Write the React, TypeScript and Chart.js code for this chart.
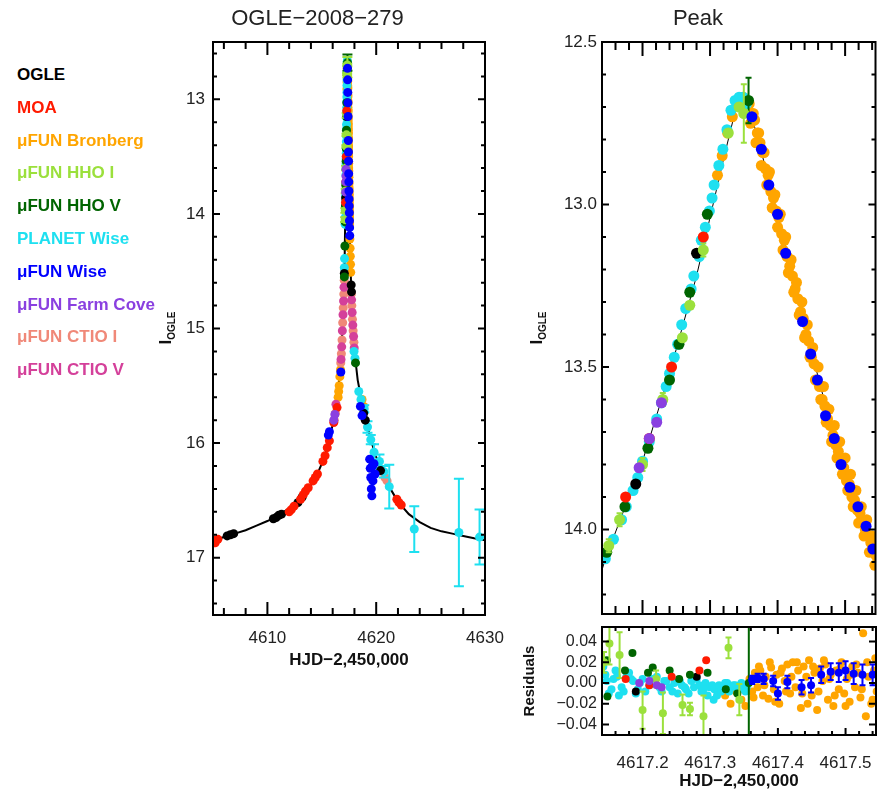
import React, { useEffect, useRef } from 'react';
import { Chart, registerables } from 'chart.js';
Chart.register(...registerables);

const FONT = '"Liberation Sans", Arial, Helvetica, sans-serif';

// ---------------- colours ----------------
const C_OGLE = '#000000';
const C_MOA = '#ff1a00';
const C_BRON = '#ffa500';
const C_HHOI = '#9be03c';
const C_HHOV = '#006400';
const C_PLAN = '#1ee0f0';
const C_WISE = '#0000ff';
const C_FARM = '#8a40e0';
const C_CTI = '#f08878';
const C_CTV = '#d4409a';

// ---------------- tick labels ----------------
const LEFT_X_TICKS = [4610, 4620, 4630];
const LEFT_Y_TICKS = [13, 14, 15, 16, 17];
const PEAK_Y_TICKS = [12.5, 13.0, 13.5, 14.0];
const RES_X_TICKS = [4617.2, 4617.3, 4617.4, 4617.5];
const RES_Y_TICKS = [-0.04, -0.02, 0, 0.02, 0.04];

// ---------------- model curve ----------------
const MODEL_T = [4604.8, 4606, 4607, 4608, 4609, 4610, 4611, 4612, 4613, 4614, 4614.5, 4615, 4615.5, 4616, 4616.3, 4616.6, 4616.8, 4617.0, 4617.1, 4617.145, 4617.2, 4617.24, 4617.28, 4617.3, 4617.32, 4617.34, 4617.352, 4617.37, 4617.4, 4617.44, 4617.48, 4617.52, 4617.546, 4617.6, 4617.7, 4617.8, 4618.0, 4618.3, 4618.6, 4619.0, 4619.5, 4620, 4620.5, 4621, 4621.5, 4622, 4623, 4624, 4625, 4626, 4627, 4628, 4629, 4630.2];
const MODEL_M = [16.86, 16.82, 16.79, 16.76, 16.72, 16.68, 16.63, 16.57, 16.49, 16.37, 16.29, 16.18, 16.04, 15.84, 15.68, 15.45, 15.22, 14.75, 14.4, 14.09, 13.79, 13.52, 13.22, 13.04, 12.86, 12.69, 12.66, 12.79, 13.03, 13.37, 13.69, 13.94, 14.08, 14.3, 14.65, 14.9, 15.2, 15.45, 15.6, 15.78, 15.97, 16.12, 16.25, 16.35, 16.43, 16.51, 16.62, 16.69, 16.74, 16.77, 16.79, 16.81, 16.83, 16.85];

// ---------------- OGLE ----------------
const OGLE_T = [4606.3, 4606.6, 4606.9, 4610.55, 4610.8, 4611.05, 4611.3, 4612.8, 4613.2, 4617.07, 4617.19, 4617.28, 4617.7, 4617.73, 4618.85, 4619.0, 4620.4];
const OGLE_M = [16.81, 16.8, 16.79, 16.66, 16.65, 16.63, 16.62, 16.52, 16.47, 14.52, 13.86, 13.15, 14.62, 14.68, 15.74, 15.8, 16.24];
const OGLE_RT = [4617.19, 4617.28];
const OGLE_R = [-0.008, 0.006];

// ---------------- MOA ----------------
const MOA_T = [4604.95, 4605.2, 4605.45, 4612.0, 4612.2, 4612.45, 4613.05, 4613.3, 4613.5, 4613.75, 4614.2, 4614.4, 4614.6, 4615.1, 4615.3, 4615.5, 4615.7, 4616.1, 4616.4, 4617.175, 4617.21, 4617.243, 4617.29, 4621.9, 4622.1, 4622.3];
const MOA_M = [16.84, 16.87, 16.84, 16.6, 16.58, 16.55, 16.49, 16.45, 16.42, 16.39, 16.33, 16.3, 16.27, 16.16, 16.11, 16.04, 15.98, 15.82, 15.69, 13.9, 13.72, 13.5, 13.1, 16.49, 16.52, 16.54];
const MOA_RT = [4617.175, 4617.21, 4617.243, 4617.284, 4617.294];
const MOA_R = [0.004, -0.002, 0.006, 0.012, 0.022];

// ---------------- muFUN Bronberg ----------------
const BRON_T = [4616.5, 4616.55, 4616.6, 4616.66, 4616.72, 4617.311, 4617.318, 4617.326, 4617.333, 4617.34, 4617.349, 4617.358, 4617.362, 4617.366, 4617.37, 4617.374, 4617.378, 4617.382, 4617.386, 4617.39, 4617.394, 4617.398, 4617.402, 4617.406, 4617.41, 4617.414, 4617.418, 4617.422, 4617.426, 4617.43, 4617.434, 4617.438, 4617.442, 4617.446, 4617.45, 4617.454, 4617.458, 4617.462, 4617.466, 4617.47, 4617.474, 4617.478, 4617.482, 4617.486, 4617.49, 4617.494, 4617.498, 4617.502, 4617.506, 4617.51, 4617.514, 4617.518, 4617.522, 4617.526, 4617.53, 4617.534, 4617.538, 4617.542, 4617.546, 4617.58, 4617.6, 4617.62, 4617.64, 4617.66, 4618.7, 4618.85];
const BRON_M = [15.6, 15.55, 15.5, 15.42, 15.36, 12.91, 12.85, 12.78, 12.73, 12.69, 12.67, 12.69, 12.72, 12.74, 12.78, 12.81, 12.84, 12.89, 12.91, 12.96, 12.98, 13.02, 13.04, 13.09, 13.11, 13.16, 13.19, 13.22, 13.26, 13.29, 13.33, 13.35, 13.4, 13.42, 13.47, 13.49, 13.54, 13.56, 13.6, 13.62, 13.66, 13.68, 13.71, 13.74, 13.76, 13.8, 13.81, 13.85, 13.86, 13.9, 13.91, 13.94, 13.95, 13.98, 14.0, 14.02, 14.04, 14.07, 14.08, 14.22, 14.3, 14.37, 14.44, 14.51, 15.62, 15.68];
const BRON2_T = [4617.36, 4617.364, 4617.368, 4617.372, 4617.376, 4617.38, 4617.384, 4617.388, 4617.392, 4617.396, 4617.4, 4617.404, 4617.408, 4617.412, 4617.416, 4617.42, 4617.424, 4617.428, 4617.432, 4617.436, 4617.44, 4617.444, 4617.448, 4617.452, 4617.456, 4617.46, 4617.464, 4617.468, 4617.472, 4617.476, 4617.48, 4617.484, 4617.488, 4617.492, 4617.496, 4617.5, 4617.504, 4617.508, 4617.512, 4617.516, 4617.52, 4617.524, 4617.528, 4617.532, 4617.536, 4617.54, 4617.544];
const BRON2_M = [12.75, 12.72, 12.81, 12.78, 12.88, 12.84, 12.94, 12.9, 13.01, 12.97, 13.07, 13.03, 13.14, 13.1, 13.21, 13.17, 13.27, 13.24, 13.34, 13.3, 13.41, 13.37, 13.47, 13.44, 13.54, 13.5, 13.6, 13.56, 13.67, 13.63, 13.73, 13.68, 13.78, 13.73, 13.83, 13.78, 13.88, 13.83, 13.93, 13.88, 13.98, 13.93, 14.02, 13.97, 14.07, 14.02, 14.11];
const BRON_RT = [4617.322, 4617.33, 4617.338, 4617.346, 4617.352, 4617.358, 4617.362, 4617.366, 4617.37, 4617.374, 4617.378, 4617.382, 4617.386, 4617.39, 4617.394, 4617.398, 4617.402, 4617.406, 4617.41, 4617.414, 4617.418, 4617.422, 4617.426, 4617.43, 4617.434, 4617.438, 4617.442, 4617.446, 4617.45, 4617.454, 4617.458, 4617.462, 4617.466, 4617.47, 4617.474, 4617.478, 4617.482, 4617.486, 4617.49, 4617.494, 4617.498, 4617.502, 4617.506, 4617.51, 4617.514, 4617.518, 4617.522, 4617.526, 4617.53, 4617.534, 4617.538, 4617.542, 4617.546, 4617.364, 4617.372, 4617.38, 4617.388, 4617.396, 4617.404, 4617.412, 4617.42, 4617.428, 4617.436, 4617.444, 4617.452, 4617.46, 4617.468, 4617.476, 4617.484, 4617.492, 4617.5, 4617.508, 4617.516, 4617.524, 4617.532, 4617.54, 4617.544];
const BRON_R = [-0.012, -0.02, -0.008, -0.016, -0.022, 0.004, -0.008, 0.01, -0.004, 0.012, -0.012, 0.006, -0.015, 0.015, -0.006, 0.008, -0.02, 0.014, 0.002, 0.018, -0.01, 0.02, -0.004, 0.012, -0.024, 0.016, 0.006, 0.022, -0.012, 0.01, -0.026, 0.014, 0.002, 0.018, -0.016, 0.008, -0.022, 0.012, -0.006, 0.02, -0.01, 0.004, -0.018, 0.016, -0.004, 0.01, -0.014, 0.048, -0.032, 0.006, -0.02, 0.012, -0.008, -0.014, 0.016, -0.002, 0.02, -0.018, 0.01, -0.008, 0.006, 0.02, -0.01, -0.02, 0.016, -0.008, 0.022, 0.004, -0.012, 0.014, -0.022, 0.008, 0.018, -0.006, 0.02, -0.016, 0.024];

// ---------------- muFUN HHO I ----------------
const HHOI_T = [4617.15, 4617.166, 4617.2, 4617.23, 4617.259, 4617.27, 4617.29, 4617.327, 4617.343, 4617.35];
const HHOI_M = [14.05, 13.97, 13.8, 13.6, 13.41, 13.31, 13.14, 12.78, 12.7, 12.72];
const HHOI_E = [0.02, 0.02, 0.02, 0.02, 0.01, 0.01, 0.02, 0.01, 0.01, 0.09];
const HHOI_RT = [4617.143, 4617.151, 4617.166, 4617.2, 4617.22, 4617.23, 4617.259, 4617.27, 4617.29, 4617.327, 4617.343];
const HHOI_R = [0.02, 0.038, 0.027, -0.026, 0.004, -0.029, -0.021, -0.025, -0.032, 0.034, -0.016];
const HHOI_RE = [0.01, 0.02, 0.022, 0.018, 0.008, 0.02, 0.01, 0.006, 0.02, 0.01, 0.015];

// ---------------- muFUN HHO V ----------------
const HHOV_T = [4617.075, 4617.12, 4617.147, 4617.174, 4617.208, 4617.24, 4617.254, 4617.27, 4617.296, 4617.357, 4618.1];
const HHOV_M = [14.55, 14.28, 14.07, 13.93, 13.75, 13.54, 13.43, 13.27, 13.03, 12.68, 15.3];
const HHOV_E = [0, 0, 0, 0, 0, 0, 0, 0, 0, 0.07, 0];
const HHOV_RT = [4617.147, 4617.148, 4617.174, 4617.185, 4617.208, 4617.215, 4617.24, 4617.254, 4617.27, 4617.296, 4617.323, 4617.34, 4617.357];
const HHOV_R = [0.022, -0.013, 0.012, 0.029, 0.01, 0.015, 0.012, 0.004, 0.008, 0.01, -0.006, -0.01, 0.0];
const HHOV_RE = [0, 0, 0, 0, 0, 0, 0, 0, 0, 0, 0, 0, 0.2];

// ---------------- PLANET Wise ----------------
const PLAN_T = [4617.07, 4617.09, 4617.145, 4617.157, 4617.169, 4617.176, 4617.186, 4617.193, 4617.2, 4617.21, 4617.221, 4617.228, 4617.235, 4617.24, 4617.247, 4617.252, 4617.258, 4617.264, 4617.272, 4617.276, 4617.284, 4617.287, 4617.293, 4617.299, 4617.303, 4617.306, 4617.313, 4617.319, 4617.325, 4617.331, 4617.337, 4617.343, 4617.349, 4617.354, 4617.96, 4618.05, 4618.4, 4618.6, 4618.9, 4619.2, 4619.5, 4619.8, 4620.3, 4620.7, 4621.2, 4623.5, 4627.6, 4629.5];
const PLAN_M = [14.47, 14.39, 14.09, 14.03, 13.97, 13.93, 13.88, 13.84, 13.79, 13.73, 13.66, 13.61, 13.56, 13.52, 13.47, 13.43, 13.37, 13.32, 13.26, 13.22, 13.16, 13.11, 13.07, 13.02, 12.98, 12.94, 12.88, 12.83, 12.77, 12.71, 12.68, 12.67, 12.67, 12.69, 15.2, 15.26, 15.55, 15.62, 15.7, 15.86, 15.97, 16.08, 16.16, 16.25, 16.38, 16.75, 16.78, 16.82];
const PLAN_E = [0, 0, 0, 0, 0, 0, 0, 0, 0, 0, 0, 0, 0, 0, 0, 0, 0, 0, 0, 0, 0, 0, 0, 0, 0, 0, 0, 0, 0, 0, 0, 0, 0, 0, 0, 0, 0, 0, 0.03, 0.05, 0.04, 0.07, 0.06, 0.05, 0.19, 0.2, 0.47, 0.24];
const PLAN_RT = [4617.142, 4617.145, 4617.15, 4617.157, 4617.16, 4617.165, 4617.169, 4617.176, 4617.18, 4617.186, 4617.19, 4617.193, 4617.2, 4617.21, 4617.221, 4617.228, 4617.235, 4617.24, 4617.247, 4617.252, 4617.258, 4617.264, 4617.272, 4617.276, 4617.284, 4617.287, 4617.293, 4617.299, 4617.303, 4617.305, 4617.306, 4617.31, 4617.313, 4617.319, 4617.325, 4617.331, 4617.337, 4617.343, 4617.349, 4617.354];
const PLAN_R = [0.016, 0.008, -0.01, 0.004, 0.012, -0.012, -0.004, 0.006, 0.01, 0.002, -0.01, -0.006, 0.004, -0.002, 0.006, -0.008, 0.002, -0.004, 0.0, -0.01, -0.002, -0.006, 0.002, -0.004, -0.002, -0.008, 0.0, -0.004, -0.002, -0.016, -0.006, -0.012, -0.002, -0.004, 0.0, -0.004, -0.002, -0.006, -0.002, -0.004];
const PLAN2_RT = [4617.147, 4617.154, 4617.162, 4617.172, 4617.183, 4617.196, 4617.204, 4617.214, 4617.225, 4617.232, 4617.244, 4617.255, 4617.262, 4617.268, 4617.28, 4617.29, 4617.296, 4617.316, 4617.322, 4617.328, 4617.334, 4617.34, 4617.346, 4617.352];
const PLAN2_R = [0.002, -0.006, 0.006, -0.008, 0.004, 0.0, -0.008, 0.004, -0.004, 0.002, -0.008, 0.002, -0.004, -0.01, 0.004, -0.006, -0.012, -0.008, 0.0, -0.008, -0.002, -0.006, 0.0, -0.008];

// ---------------- muFUN Wise ----------------
const WISE_T = [4615.6, 4615.7, 4616.75, 4617.362, 4617.376, 4617.387, 4617.4, 4617.412, 4617.437, 4617.449, 4617.459, 4617.471, 4617.484, 4617.494, 4617.507, 4617.519, 4617.531, 4617.541, 4617.555, 4617.57, 4618.55, 4618.7, 4619.4, 4619.45, 4619.5, 4619.55, 4619.6, 4619.65, 4619.7, 4619.8, 4619.9];
const WISE_M = [15.93, 15.9, 15.38, 12.73, 12.83, 12.94, 13.03, 13.15, 13.36, 13.46, 13.54, 13.65, 13.72, 13.8, 13.87, 13.93, 13.99, 14.06, 14.12, 14.19, 15.68, 15.76, 16.14, 16.22, 16.3, 16.4, 16.46, 16.2, 16.33, 16.18, 16.27];
const WISE_RT = [4617.362, 4617.37, 4617.379, 4617.393, 4617.4, 4617.414, 4617.435, 4617.449, 4617.464, 4617.478, 4617.49, 4617.5, 4617.512, 4617.525, 4617.54];
const WISE_R = [0.003, 0.005, 0.004, 0.002, -0.01, 0.001, -0.004, -0.002, 0.008, 0.011, 0.01, 0.012, 0.009, 0.008, 0.008];
const WISE_RE = [0.004, 0.004, 0.005, 0.005, 0.006, 0.006, 0.007, 0.007, 0.008, 0.008, 0.009, 0.009, 0.01, 0.01, 0.01];

// ---------------- muFUN Farm Cove ----------------
const FARM_T = [4616.1, 4616.2, 4617.195, 4617.21, 4617.221, 4617.228];
const FARM_M = [15.8, 15.75, 13.81, 13.72, 13.67, 13.61];
const FARM_RT = [4617.195, 4617.21, 4617.221, 4617.228];
const FARM_R = [0.0, 0.002, -0.002, -0.004];

// ---------------- muFUN CTIO I / V ----------------
const CTI_T = [4616.15, 4616.25, 4616.74, 4616.8, 4616.86, 4616.92, 4616.97, 4617.02, 4617.06, 4617.72, 4617.76, 4617.82, 4617.88, 4617.95, 4620.6, 4620.8, 4621.0];
const CTI_M = [15.8, 15.74, 15.3, 15.22, 15.1, 14.95, 14.82, 14.7, 14.58, 14.7, 14.8, 14.92, 15.02, 15.12, 16.25, 16.3, 16.33];
const CTV_T = [4616.3, 4616.77, 4616.83, 4616.89, 4616.95, 4617.0, 4617.04, 4617.74, 4617.79, 4617.85, 4617.92, 4617.98];
const CTV_M = [15.66, 15.27, 15.16, 15.02, 14.88, 14.76, 14.64, 14.75, 14.86, 14.97, 15.07, 15.17];

// ---------------- legend / axis text ----------------
const LEGEND_LABELS = ['OGLE', 'MOA', 'μFUN Bronberg', 'μFUN HHO I', 'μFUN HHO V', 'PLANET Wise', 'μFUN Wise', 'μFUN Farm Cove', 'μFUN CTIO I', 'μFUN CTIO V'];
const LEGEND_COLORS = [C_OGLE, C_MOA, C_BRON, C_HHOI, C_HHOV, C_PLAN, C_WISE, C_FARM, C_CTI, C_CTV];
const TITLE_LEFT = 'OGLE−2008−279';
const TITLE_RIGHT = 'Peak';
const X_LABEL = 'HJD−2,450,000';

type Obs = { label: string; color: string; t: number[]; m: number[]; e?: number[]; rt?: number[]; r?: number[]; re?: number[] };

// draw order: first = on top
const OBS: Obs[] = [
  { label: 'μFUN Wise', color: C_WISE, t: WISE_T, m: WISE_M, rt: WISE_RT, r: WISE_R, re: WISE_RE },
  { label: 'μFUN Farm Cove', color: C_FARM, t: FARM_T, m: FARM_M, rt: FARM_RT, r: FARM_R },
  { label: 'MOA', color: C_MOA, t: MOA_T, m: MOA_M, rt: MOA_RT, r: MOA_R },
  { label: 'μFUN HHO I', color: C_HHOI, t: HHOI_T, m: HHOI_M, e: HHOI_E, rt: HHOI_RT, r: HHOI_R, re: HHOI_RE },
  { label: 'μFUN HHO V', color: C_HHOV, t: HHOV_T, m: HHOV_M, e: HHOV_E, rt: HHOV_RT, r: HHOV_R, re: HHOV_RE },
  { label: 'OGLE', color: C_OGLE, t: OGLE_T, m: OGLE_M, rt: OGLE_RT, r: OGLE_R },
  { label: 'PLANET Wise', color: C_PLAN, t: PLAN_T, m: PLAN_M, e: PLAN_E, rt: [...PLAN_RT, ...PLAN2_RT], r: [...PLAN_R, ...PLAN2_R] },
  { label: 'μFUN CTIO V', color: C_CTV, t: CTV_T, m: CTV_M },
  { label: 'μFUN CTIO I', color: C_CTI, t: CTI_T, m: CTI_M },
  { label: 'μFUN Bronberg', color: C_BRON, t: [...BRON_T, ...BRON2_T], m: [...BRON_M, ...BRON2_M], rt: BRON_RT, r: BRON_R },
];

const pts = (t: number[], v: number[]) => t.map((x, i) => ({ x, y: v[i] }));

// ---------------- plugins ----------------
const errorBarPlugin = {
  id: 'errorBars',
  beforeDatasetDraw(chart: any, args: any) {
    const ds = chart.data.datasets[args.index];
    const errs: number[] | undefined = ds.errors;
    if (!errs) return;
    const ys = chart.scales.y;
    const a = chart.chartArea;
    const ctx = chart.ctx;
    ctx.save();
    ctx.beginPath();
    ctx.rect(a.left, a.top, a.right - a.left, a.bottom - a.top);
    ctx.clip();
    ctx.strokeStyle = ds.pointBackgroundColor;
    ctx.lineWidth = 2;
    const cap = ds.capWidth ?? 4;
    args.meta.data.forEach((el: any, i: number) => {
      const e = errs[i];
      if (!e) return;
      const v = ds.data[i].y;
      const y1 = ys.getPixelForValue(v - e);
      const y2 = ys.getPixelForValue(v + e);
      const x = el.x;
      ctx.beginPath();
      ctx.moveTo(x, y1); ctx.lineTo(x, y2);
      ctx.moveTo(x - cap, y1); ctx.lineTo(x + cap, y1);
      ctx.moveTo(x - cap, y2); ctx.lineTo(x + cap, y2);
      ctx.stroke();
    });
    ctx.restore();
  },
};

const frameTicksPlugin = {
  id: 'frameTicks',
  afterDraw(chart: any, _a: any, opts: any) {
    if (!opts || !opts.x) return;
    const { ctx, chartArea: a, scales } = chart;
    ctx.save();
    ctx.strokeStyle = '#000';
    ctx.lineWidth = 2;
    ctx.strokeRect(a.left, a.top, a.right - a.left, a.bottom - a.top);
    const each = (scale: any, cfg: number[], fn: (p: number, len: number) => void) => {
      const [major, minor, lMaj, lMin] = cfg;
      const lo = Math.min(scale.min, scale.max);
      const hi = Math.max(scale.min, scale.max);
      const n0 = Math.ceil(lo / minor - 1e-6);
      const n1 = Math.floor(hi / minor + 1e-6);
      for (let n = n0; n <= n1; n++) {
        const v = n * minor;
        const q = v / major;
        const isMajor = Math.abs(q - Math.round(q)) < 1e-6;
        fn(scale.getPixelForValue(v), isMajor ? lMaj : lMin);
      }
    };
    ctx.beginPath();
    each(scales.x, opts.x, (p, len) => {
      ctx.moveTo(p, a.bottom); ctx.lineTo(p, a.bottom - len);
      ctx.moveTo(p, a.top); ctx.lineTo(p, a.top + len);
    });
    each(scales.y, opts.y, (p, len) => {
      ctx.moveTo(a.left, p); ctx.lineTo(a.left + len, p);
      ctx.moveTo(a.right, p); ctx.lineTo(a.right - len, p);
    });
    ctx.stroke();
    ctx.restore();
  },
};

// ---------------- configs ----------------
const tickFont = { family: FONT, size: 17 };
const noGrid = { display: false, drawTicks: false };
const noBorder = { display: false };
const fixedTicks = (values: number[]) => (s: any) => {
  s.ticks = values.map((v) => ({ value: v }));
};

function obsDatasets(kind: 'main' | 'peak' | 'resid', radius: number) {
  const list = kind === 'resid' ? OBS.filter((o) => o.rt) : OBS;
  return list.map((o) => ({
    label: o.label,
    data: kind === 'resid' ? pts(o.rt as number[], o.r as number[]) : pts(o.t, o.m),
    errors: kind === 'resid' ? o.re : o.e,
    capWidth: kind === 'main' ? 5 : 3,
    pointBackgroundColor: o.color,
    backgroundColor: o.color,
    borderColor: o.color,
    pointBorderWidth: 0,
    pointRadius: radius,
    pointHoverRadius: radius,
    showLine: false,
    clip: 0,
  }));
}

function modelDataset(width: number) {
  return {
    label: 'model',
    data: pts(MODEL_T, MODEL_M),
    showLine: true,
    borderColor: '#000',
    borderWidth: width,
    pointRadius: 0,
    tension: 0,
    clip: 0,
  };
}

const titleOpts = (text: string) => ({
  display: true,
  text,
  color: '#222',
  font: { family: FONT, size: 22, weight: 'normal' as const },
  padding: { top: 6, bottom: 9.6 },
});

function mainConfig(): any {
  return {
    type: 'scatter',
    data: { datasets: [...obsDatasets('main', 4.5), modelDataset(2)] },
    plugins: [errorBarPlugin, frameTicksPlugin],
    options: {
      responsive: false,
      animation: false,
      events: [],
      layout: { padding: { left: 0, right: 30, top: 0, bottom: 0 } },
      plugins: {
        legend: { display: false },
        tooltip: { enabled: false },
        title: titleOpts(TITLE_LEFT),
        frameTicks: { x: [10, 2, 13, 7], y: [1, 0.2, 7, 4] },
      },
      scales: {
        x: {
          type: 'linear', min: 4605, max: 4630, grid: noGrid, border: noBorder,
          ticks: { padding: 13, font: tickFont, color: '#222', maxRotation: 0, autoSkip: false, callback: (v: number) => String(Math.round(v)) },
          title: { display: true, text: X_LABEL, color: '#111', font: { family: FONT, size: 17, weight: 'bold' }, padding: { top: 0, bottom: 9 } },
          afterBuildTicks: fixedTicks(LEFT_X_TICKS),
          afterFit: (s: any) => { s.height = 65; s.paddingLeft = 0; s.paddingRight = 0; },
        },
        y: {
          type: 'linear', reverse: true, min: 12.5, max: 17.5, grid: noGrid, border: noBorder,
          ticks: { padding: 8, font: tickFont, color: '#222', autoSkip: false, callback: (v: number) => String(Math.round(v)) },
          afterBuildTicks: fixedTicks(LEFT_Y_TICKS),
          afterFit: (s: any) => { s.width = 63; s.paddingTop = 0; s.paddingBottom = 0; },
        },
      },
    },
  };
}

function peakConfig(): any {
  return {
    type: 'scatter',
    data: { datasets: [...obsDatasets('peak', 5.5), modelDataset(1)] },
    plugins: [errorBarPlugin, frameTicksPlugin],
    options: {
      responsive: false,
      animation: false,
      events: [],
      layout: { padding: { left: 0, right: 5, top: 0, bottom: 6 } },
      plugins: {
        legend: { display: false },
        tooltip: { enabled: false },
        title: titleOpts(TITLE_RIGHT),
        frameTicks: { x: [0.1, 0.02, 14, 8], y: [0.5, 0.1, 7, 4] },
      },
      scales: {
        x: { type: 'linear', min: 4617.14, max: 4617.545, display: false },
        y: {
          type: 'linear', reverse: true, min: 12.5, max: 14.26, grid: noGrid, border: noBorder,
          ticks: { padding: 5, font: tickFont, color: '#222', autoSkip: false, callback: (v: number) => v.toFixed(1) },
          afterBuildTicks: fixedTicks(PEAK_Y_TICKS),
          afterFit: (s: any) => { s.width = 82; s.paddingTop = 0; s.paddingBottom = 0; },
        },
      },
    },
  };
}

function residConfig(): any {
  return {
    type: 'scatter',
    data: { datasets: obsDatasets('resid', 4) },
    plugins: [errorBarPlugin, frameTicksPlugin],
    options: {
      responsive: false,
      animation: false,
      events: [],
      layout: { padding: { left: 0, right: 5, top: 7, bottom: 0 } },
      plugins: {
        legend: { display: false },
        tooltip: { enabled: false },
        frameTicks: { x: [0.1, 0.02, 7, 4], y: [0.02, 0.02, 7, 4] },
      },
      scales: {
        x: {
          type: 'linear', min: 4617.14, max: 4617.545, grid: noGrid, border: noBorder,
          ticks: { padding: 18, font: tickFont, color: '#222', maxRotation: 0, autoSkip: false, callback: (v: number) => v.toFixed(1) },
          title: { display: true, text: X_LABEL, color: '#111', font: { family: FONT, size: 17, weight: 'bold' }, padding: { top: 0, bottom: 4 } },
          afterBuildTicks: fixedTicks(RES_X_TICKS),
          afterFit: (s: any) => { s.height = 61; s.paddingLeft = 0; s.paddingRight = 0; },
        },
        y: {
          type: 'linear', min: -0.05, max: 0.054, grid: noGrid, border: noBorder,
          ticks: {
            padding: 5, font: { family: FONT, size: 16 }, color: '#222', autoSkip: false,
            callback: (v: number) => (Math.abs(v) < 1e-9 ? '0.00' : v.toFixed(2).replace('-', '−')),
          },
          afterBuildTicks: fixedTicks(RES_Y_TICKS),
          afterFit: (s: any) => { s.width = 82; s.paddingTop = 0; s.paddingBottom = 0; },
        },
      },
    },
  };
}

const rotLabel = (left: number, top: number): React.CSSProperties => ({
  position: 'absolute',
  left,
  top,
  transform: 'translate(-50%, -50%) rotate(-90deg)',
  whiteSpace: 'nowrap',
  fontFamily: FONT,
  fontWeight: 'bold',
  color: '#111',
  lineHeight: 1,
});

export default function App() {
  const r1 = useRef<HTMLCanvasElement>(null);
  const r2 = useRef<HTMLCanvasElement>(null);
  const r3 = useRef<HTMLCanvasElement>(null);

  useEffect(() => {
    const c1 = new Chart(r1.current as HTMLCanvasElement, mainConfig());
    const c2 = new Chart(r2.current as HTMLCanvasElement, peakConfig());
    const c3 = new Chart(r3.current as HTMLCanvasElement, residConfig());
    return () => {
      c1.destroy();
      c2.destroy();
      c3.destroy();
    };
  }, []);

  return (
    <div style={{ position: 'absolute', left: 0, top: 0, width: 881, height: 796, background: '#fff', overflow: 'hidden' }}>
      <canvas ref={r1} width={365} height={680} style={{ position: 'absolute', left: 150, top: 0 }} />
      <canvas ref={r2} width={361} height={620} style={{ position: 'absolute', left: 520, top: 0 }} />
      <canvas ref={r3} width={361} height={176} style={{ position: 'absolute', left: 520, top: 620 }} />
      {LEGEND_LABELS.map((lab, i) => (
        <div
          key={lab}
          style={{
            position: 'absolute', left: 17, top: 75 + i * 32.8 - 10, fontFamily: FONT, fontWeight: 'bold',
            fontSize: 17, lineHeight: '20px', color: LEGEND_COLORS[i], whiteSpace: 'nowrap',
          }}
        >
          {lab}
        </div>
      ))}
      <div style={{ ...rotLabel(167, 328), fontSize: 17 }}>
        I<sub style={{ fontSize: 10, verticalAlign: 'sub' }}>OGLE</sub>
      </div>
      <div style={{ ...rotLabel(538, 328), fontSize: 17 }}>
        I<sub style={{ fontSize: 10, verticalAlign: 'sub' }}>OGLE</sub>
      </div>
      <div style={{ ...rotLabel(528, 681), fontSize: 15 }}>Residuals</div>
    </div>
  );
}
